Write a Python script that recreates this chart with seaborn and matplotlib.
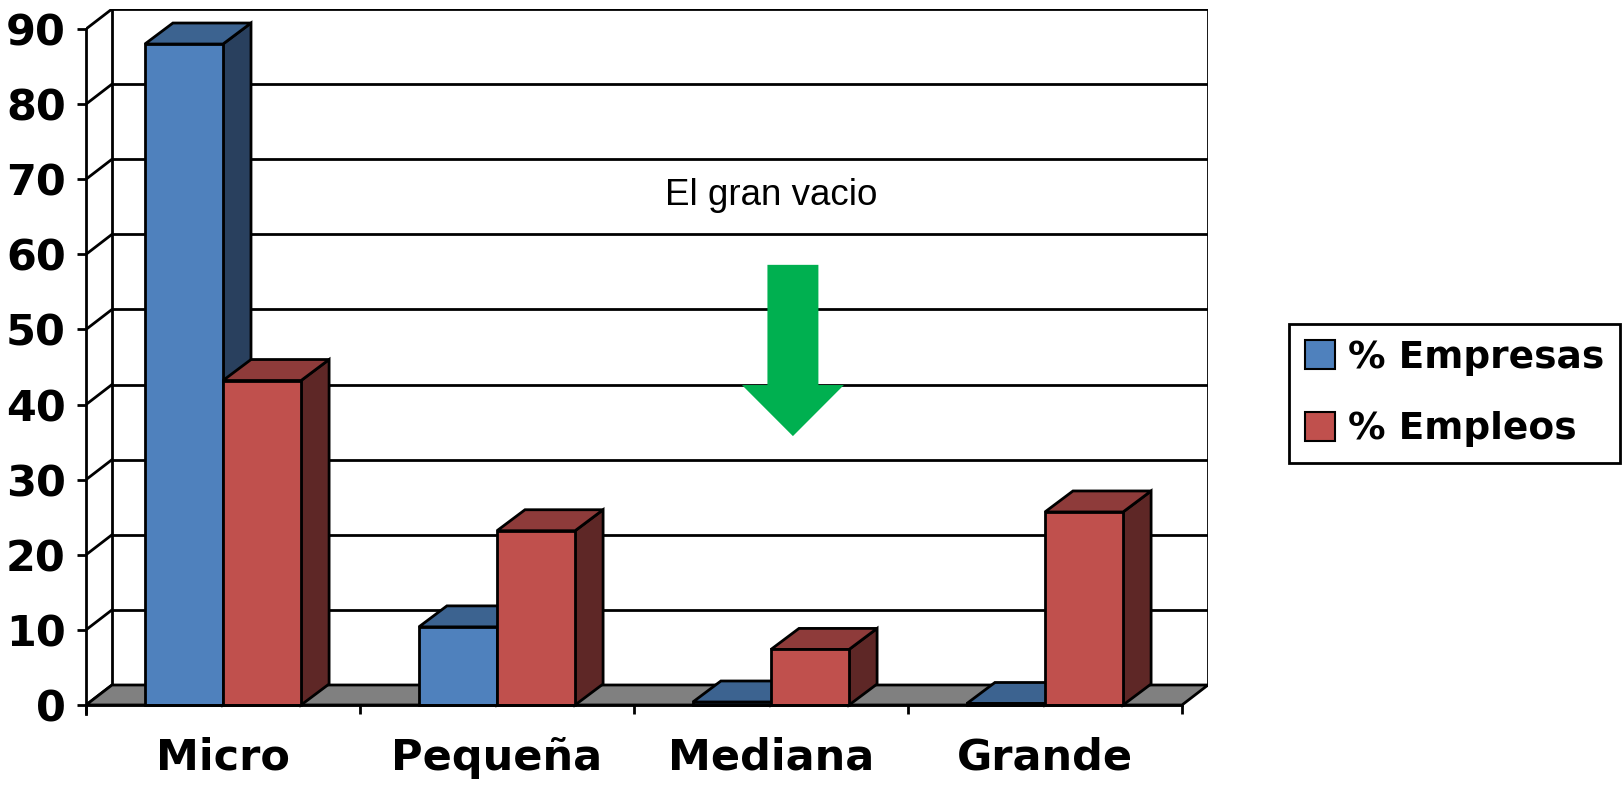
import matplotlib
matplotlib.use('Agg')
import matplotlib.pyplot as plt
from matplotlib.patches import Polygon, Patch, FancyArrow
import seaborn as sns
import pandas as pd

# data
categorias = ['Micro', 'Pequeña', 'Mediana', 'Grande']
series = ['% Empresas', '% Empleos']
empresas = [88.0, 10.4, 0.4, 0.2]
empleos = [43.2, 23.2, 7.4, 25.7]

front = {'% Empresas': '#4F81BD', '% Empleos': '#C0504D'}
top = {'% Empresas': '#3C6390', '% Empleos': '#8E3B3A'}
side = {'% Empresas': '#29405E', '% Empleos': '#5E2726'}

df = pd.DataFrame({
    'cat': categorias * 2,
    'serie': [series[0]] * 4 + [series[1]] * 4,
    'val': empresas + empleos,
})

sns.set_style('white')
plt.rcParams['font.family'] = ['DejaVu Sans']
plt.rcParams['text.color'] = 'black'
plt.rcParams['xtick.color'] = 'black'
plt.rcParams['ytick.color'] = 'black'

fig = plt.figure(figsize=(16.24, 7.85), dpi=100)
ax = fig.add_axes([86 / 1624, 71 / 785, 1122 / 1624, 705 / 785])

ddx, ddy = 26 / 274, 20 / 7.511   # depth of the wall/floor
bdx, bdy = 28 / 274, 21 / 7.511   # depth of the bars
ymax = 90

sns.barplot(data=df, x='cat', y='val', hue='serie', order=categorias,
            hue_order=series, palette=front, width=0.57, saturation=1,
            edgecolor='black', linewidth=2, legend=False, ax=ax, zorder=3)
bars = sorted(list(ax.patches), key=lambda p: p.get_x())

ax.set_xlim(-0.5, 3.5 + ddx)
ax.set_ylim(-9 / 7.511, ymax + ddy)

# back wall, grid and floor
for v in range(0, ymax + 1, 10):
    ax.plot([-0.5 + ddx, 3.5 + ddx], [v + ddy, v + ddy], color='black', lw=2, zorder=1)
    ax.plot([-0.5, -0.5 + ddx], [v, v + ddy], color='black', lw=2, zorder=1)
ax.plot([-0.5 + ddx] * 2, [ddy, ymax + ddy], color='black', lw=2, zorder=1)
ax.plot([3.5 + ddx] * 2, [ddy, ymax + ddy], color='black', lw=2, zorder=1)
ax.add_patch(Polygon([(-0.5, 0), (3.5, 0), (3.5 + ddx, ddy), (-0.5 + ddx, ddy)],
                     closed=True, facecolor='#808080', edgecolor='black', lw=2, zorder=2))

# 3D faces for each bar, left to right
for k, b in enumerate(bars):
    x0, w, h = b.get_x(), b.get_width(), b.get_height()
    s = series[k % 2]
    z = 3 + k * 0.1
    b.set_zorder(z + 0.05)
    ax.add_patch(Polygon([(x0 + w, 0), (x0 + w + bdx, bdy), (x0 + w + bdx, h + bdy), (x0 + w, h)],
                         closed=True, facecolor=side[s], edgecolor='black', lw=2, zorder=z))
    ax.add_patch(Polygon([(x0, h), (x0 + bdx, h + bdy), (x0 + w + bdx, h + bdy), (x0 + w, h)],
                         closed=True, facecolor=top[s], edgecolor='black', lw=2, zorder=z))

# axes: front left axis and bottom edge
for sp in ['top', 'right']:
    ax.spines[sp].set_visible(False)
ax.spines['left'].set_position(('data', -0.5))
ax.spines['left'].set_bounds(-9 / 7.511, ymax)
ax.spines['bottom'].set_position(('data', 0))
ax.spines['bottom'].set_bounds(-0.5, 3.5)
for sp in ['left', 'bottom']:
    ax.spines[sp].set_linewidth(2)
    ax.spines[sp].set_color('black')
    ax.spines[sp].set_zorder(10)

ax.set_yticks(range(0, ymax + 1, 10))
ax.set_yticklabels([str(v) for v in range(0, ymax + 1, 10)], fontsize=31, fontweight='bold')
ax.tick_params(axis='y', direction='out', length=6.5, width=2, pad=8, color='black', left=True)
ax.set_xticks(range(4))
ax.set_xticklabels(categorias, fontsize=31, fontweight='bold')
ax.set_xticks([-0.5, 0.5, 1.5, 2.5, 3.5], minor=True)
ax.tick_params(axis='x', which='major', length=0, pad=23)
ax.tick_params(axis='x', which='minor', direction='out', length=6.5, width=2, color='black', bottom=True)
ax.set_xlabel('')
ax.set_ylabel('')
ax.grid(False)

# annotation
ax.text(2.0, 67.8, 'El gran vacio', fontsize=26.5, family='Liberation Sans',
        ha='center', va='center', zorder=6)
ax.add_patch(FancyArrow(2.08, 58.6, 0, -22.8, width=0.186, head_width=0.372,
                        head_length=6.8, length_includes_head=True,
                        color='#00B050', lw=0, zorder=6))

handles = [Patch(facecolor=front[s], edgecolor='black', lw=1.5, label=s) for s in series]
leg = fig.legend(handles=handles, loc='upper left', bbox_to_anchor=(1289 / 1624, 1 - 324 / 785),
                 frameon=True, fancybox=False, edgecolor='black', framealpha=1,
                 prop={'size': 27, 'weight': 'bold'}, handlelength=0.8, handleheight=0.8,
                 handletextpad=0.35, labelspacing=0.95, borderpad=0.42, borderaxespad=0)
leg.get_frame().set_linewidth(2)

fig.savefig('out.png', dpi=100)
